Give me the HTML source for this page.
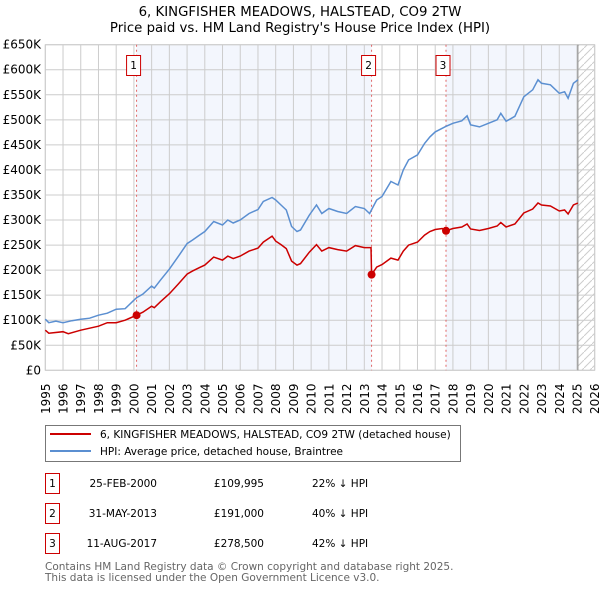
<!DOCTYPE html>
<html><head><meta charset="utf-8">
<style>
body{margin:0;background:#fff;font-family:"DejaVu Sans","Liberation Sans",sans-serif;}
svg{display:block}
</style></head>
<body>
<svg id="chart" width="600" height="590" xmlns="http://www.w3.org/2000/svg" font-family="DejaVu Sans, Liberation Sans, sans-serif">
<text x="300" y="16" text-anchor="middle" font-size="13.3">6, KINGFISHER MEADOWS, HALSTEAD, CO9 2TW</text>
<text x="300" y="32" text-anchor="middle" font-size="13.3">Price paid vs. HM Land Registry's House Price Index (HPI)</text>
<g id="plot"></g>
<g>
<rect x="45.5" y="425.5" width="415" height="36" fill="#fff" stroke="#777"/>
<line x1="50" y1="434" x2="91" y2="434" stroke="#cc0000" stroke-width="2"/>
<text x="100" y="438" font-size="10.5">6, KINGFISHER MEADOWS, HALSTEAD, CO9 2TW (detached house)</text>
<line x1="50" y1="451" x2="91" y2="451" stroke="#5b8fd1" stroke-width="2"/>
<text x="100" y="455" font-size="10.5">HPI: Average price, detached house, Braintree</text>
</g>
<g id="table" font-size="10.5"></g>
<text x="45" y="570" font-size="10.5" fill="#666">Contains HM Land Registry data © Crown copyright and database right 2025.</text>
<text x="45" y="581" font-size="10.5" fill="#666">This data is licensed under the Open Government Licence v3.0.</text>
</svg>
<script>
const hpiYears=[1995.0,1995.2,1995.6,1996.0,1996.5,1997.0,1997.5,1998.0,1998.5,1999.0,1999.5,2000.0,2000.15,2000.5,2001.0,2001.15,2001.5,2002.0,2002.5,2003.0,2003.3,2003.7,2004.0,2004.5,2005.0,2005.3,2005.6,2006.0,2006.5,2007.0,2007.3,2007.8,2008.0,2008.3,2008.6,2008.9,2009.2,2009.4,2009.9,2010.3,2010.6,2011.0,2011.5,2012.0,2012.5,2013.0,2013.3,2013.7,2014.0,2014.5,2014.9,2015.2,2015.5,2016.0,2016.4,2016.7,2017.0,2017.6,2018.0,2018.5,2018.8,2019.0,2019.5,2020.0,2020.5,2020.7,2021.0,2021.5,2022.0,2022.5,2022.8,2023.0,2023.5,2024.0,2024.3,2024.5,2024.8,2025.05];
const hpiValues=[102,95,98,95,99,102,104,110,114,122,123,140,145,152,168,164,180,202,227,253,260,270,277,297,290,300,294,300,313,321,337,345,340,330,320,287,277,280,310,330,313,323,317,313,327,323,313,340,347,377,370,400,420,430,453,466,476,487,493,498,508,490,486,493,500,513,497,507,546,560,580,573,570,553,556,543,573,580];
const paidYears=[1995.0,1995.2,1996.0,1996.3,1997.0,1998.0,1998.5,1999.0,1999.5,2000.15,2000.5,2001.0,2001.15,2001.5,2002.0,2002.5,2003.0,2003.3,2003.7,2004.0,2004.5,2005.0,2005.3,2005.6,2006.0,2006.5,2007.0,2007.3,2007.8,2008.0,2008.3,2008.6,2008.9,2009.2,2009.4,2009.9,2010.3,2010.6,2011.0,2011.5,2012.0,2012.5,2013.0,2013.38,2013.41,2013.7,2014.0,2014.5,2014.9,2015.2,2015.5,2016.0,2016.4,2016.7,2017.0,2017.4,2017.61,2018.0,2018.5,2018.8,2019.0,2019.5,2020.0,2020.5,2020.7,2021.0,2021.5,2022.0,2022.5,2022.8,2023.0,2023.5,2024.0,2024.3,2024.5,2024.8,2025.05];
const paidValues=[80,74,77,73,80,88,95,95,100,110,116,128,125,137,153,172,192,198,205,210,226,220,228,223,228,238,244,256,268,258,251,243,218,210,213,236,251,238,245,241,238,249,245,245,191,206,211,224,220,238,250,256,270,277,281,283,278.5,283,286,292,282,279,283,288,295,286,292,314,322,334,330,328,318,320,312,330,334];
const saleYears=[2000.15,2013.41,2017.61];
const saleValues=[109.995,191,278.5];
const saleLabels=["1","2","3"];
const saleDates=["25-FEB-2000","31-MAY-2013","11-AUG-2017"];
const salePrices=["£109,995","£191,000","£278,500"];
const saleDiffs=["22% ↓ HPI","40% ↓ HPI","42% ↓ HPI"];
const yTicks=[0,50,100,150,200,250,300,350,400,450,500,550,600,650];
const yTickLabels=["£0","£50K","£100K","£150K","£200K","£250K","£300K","£350K","£400K","£450K","£500K","£550K","£600K","£650K"];
const xTicks=[1995,1996,1997,1998,1999,2000,2001,2002,2003,2004,2005,2006,2007,2008,2009,2010,2011,2012,2013,2014,2015,2016,2017,2018,2019,2020,2021,2022,2023,2024,2025,2026];
const dataEnd=2025.05;

const NS="http://www.w3.org/2000/svg";
const L=45.3,R=594.7,T=44.7,B=370.3;
const x=v=>L+(v-1995)/31*(R-L);
const y=v=>B-v/650*(B-T);
const plot=document.getElementById('plot');
function mk(tag,attrs,parent){const e=document.createElementNS(NS,tag);for(const k in attrs)e.setAttribute(k,attrs[k]);(parent||plot).appendChild(e);return e;}

let e=mk('rect',{x:x(saleYears[0]),y:T,width:x(saleYears[1])-x(saleYears[0]),height:B-T,fill:'#f3f6fd'});


e=mk('rect',{x:x(saleYears[2]),y:T,width:x(dataEnd)-x(saleYears[2]),height:B-T,fill:'#f3f6fd'});


const defs=mk('defs',{});
const pat=mk('pattern',{id:'hatch',width:8,height:8,patternUnits:'userSpaceOnUse'},defs);
mk('path',{d:'M0,8 L8,0',stroke:'#ccc','stroke-width':1},pat);
e=mk('rect',{x:x(dataEnd),y:T,width:R-x(dataEnd),height:B-T,fill:'url(#hatch)'});



yTicks.forEach((v,i)=>{
  mk('line',{x1:L,x2:R,y1:y(v),y2:y(v),stroke:'#ccc','stroke-width':1});
  const t=mk('text',{x:41,y:y(v)+4,'text-anchor':'end','font-size':12});
  t.textContent=yTickLabels[i];
  
  
});
xTicks.forEach(v=>{
  mk('line',{x1:x(v),x2:x(v),y1:T,y2:B,stroke:'#ccc','stroke-width':1});
  const t=mk('text',{x:0,y:0,'font-size':12,transform:`translate(${x(v)+4.5},414) rotate(-90)`});
  t.textContent=String(v);
  
  
});
mk('rect',{x:L,y:T,width:R-L,height:B-T,fill:'none',stroke:'#ccc'});
mk('line',{x1:x(dataEnd),x2:x(dataEnd),y1:T,y2:B,stroke:'#999','stroke-width':1.2});

saleYears.forEach((s,i)=>{
  const l=mk('line',{x1:x(s),x2:x(s),y1:T,y2:B,stroke:'#e06666','stroke-width':1,'stroke-dasharray':'2,3'});
  
  
  const g=mk('g',{});
  
  
  mk('rect',{x:x(s)-10,y:55.5,width:14,height:20,fill:'#fff',stroke:'#cc0000'},g);
  const t=mk('text',{x:x(s)-3,y:69,'text-anchor':'middle','font-size':10.5},g);
  t.textContent=saleLabels[i];
});

function path(xs,vs){return xs.map((v,i)=>(i?'L':'M')+x(v).toFixed(1)+','+y(vs[i]).toFixed(1)).join(' ');}
e=mk('path',{d:path(hpiYears,hpiValues),fill:'none',stroke:'#5b8fd1','stroke-width':1.5});


e=mk('path',{d:path(paidYears,paidValues),fill:'none',stroke:'#cc0000','stroke-width':1.5});


saleYears.forEach((s,i)=>{
  const c=mk('circle',{cx:x(s),cy:y(saleValues[i]),r:4,fill:'#cc0000'});
  
  
});

const tbl=document.getElementById('table');
saleLabels.forEach((lab,i)=>{
  const yy=487+i*30;
  const g=mk('g',{},tbl);
  
  
  mk('rect',{x:45.5,y:yy-13.5,width:14,height:20,fill:'#fff',stroke:'#cc0000'},g);
  let t=mk('text',{x:52.5,y:yy,'text-anchor':'middle'},g);t.textContent=lab;
  t=mk('text',{x:157,y:yy,'text-anchor':'end'},g);t.textContent=saleDates[i];
  t=mk('text',{x:264,y:yy,'text-anchor':'end'},g);t.textContent=salePrices[i];
  t=mk('text',{x:312,y:yy},g);t.textContent=saleDiffs[i];
});
</script>
</body></html>
